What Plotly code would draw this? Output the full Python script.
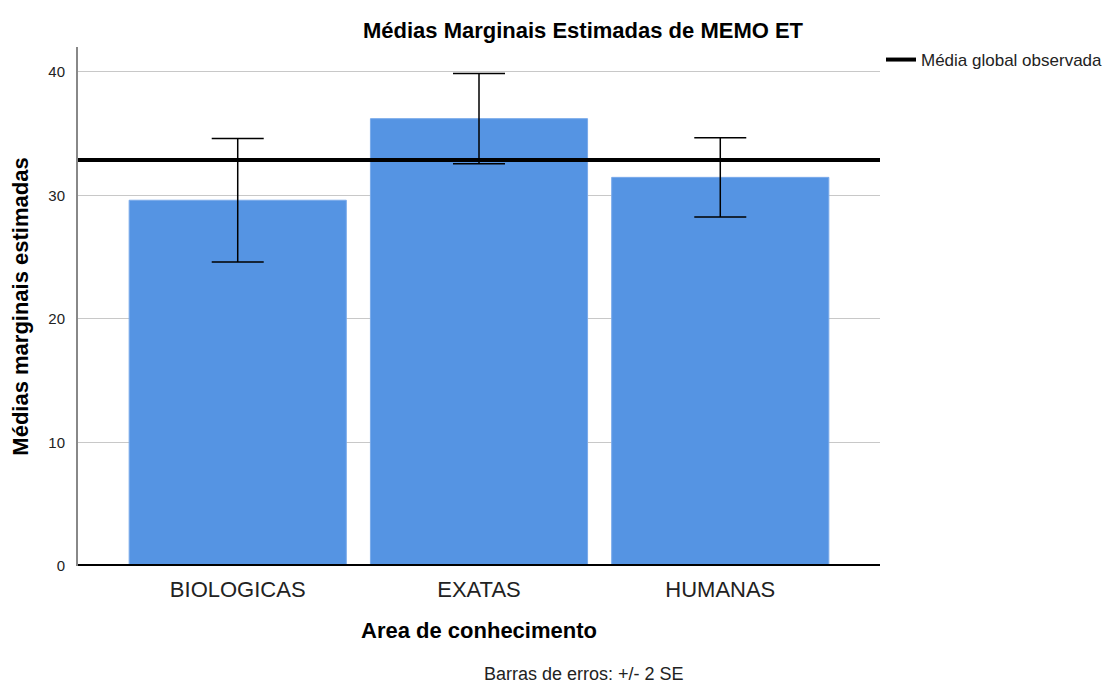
import plotly.graph_objects as go

categories = ["BIOLOGICAS", "EXATAS", "HUMANAS"]
means = [29.6, 36.2, 31.45]
err_2se = [5.0, 3.65, 3.2]
global_mean = 32.85
y_ticks = [0, 10, 20, 30, 40]

x_pos = list(range(len(categories)))

# page body has an 8px margin, so the figure is 8px smaller than the window
W, H = 1106, 676
L, T, PW, PH = 70, 39, 802, 519

fig = go.Figure()
fig.add_trace(go.Bar(
    x=x_pos, y=means, width=0.9,
    marker=dict(color="#5594E3", line=dict(color="#7aaaea", width=1)),
    error_y=dict(type="data", array=err_2se, visible=True, color="black",
                 thickness=1.5, width=26),
    showlegend=False, hoverinfo="skip",
))
fig.add_trace(go.Scatter(
    x=[None], y=[None], mode="lines",
    line=dict(color="black", width=4),
    name="Média global observada", showlegend=True,
))
fig.add_shape(type="line", xref="x domain", x0=0, x1=1, yref="y",
              y0=global_mean, y1=global_mean,
              line=dict(color="black", width=4), layer="above")
fig.add_shape(type="line", xref="x domain", x0=0, x1=1, yref="y",
              y0=0, y1=0, line=dict(color="black", width=4), layer="above")

fig.update_layout(
    width=W, height=H,
    margin=dict(l=L, r=W - L - PW, t=T, b=H - T - PH, autoexpand=False),
    paper_bgcolor="white", plot_bgcolor="white",
    font=dict(family="Liberation Sans, Arial, sans-serif", color="#222"),
    title=dict(text="<b>Médias Marginais Estimadas de MEMO ET</b>",
               x=575 / W, xanchor="center", y=1 - 22 / H, yanchor="middle",
               font=dict(size=22, color="black")),
    legend=dict(x=1.0 + 1 / PW, xanchor="left", y=1.0 + 5 / PH, yanchor="top",
                font=dict(size=17, color="#222"), bgcolor="rgba(0,0,0,0)",
                itemwidth=30),
    xaxis=dict(
        tickmode="array", tickvals=x_pos, ticktext=categories,
        range=[-0.662, len(categories) - 1 + 0.662],
        showgrid=False, zeroline=False, showline=False,
        tickfont=dict(size=22, color="#222"), ticks="", ticklabelstandoff=8,
        title=dict(text="<b>Area de conhecimento</b>", font=dict(size=22, color="black"),
                   standoff=21),
        automargin=False,
    ),
    yaxis=dict(
        range=[0, 42.0], tickvals=y_ticks,
        showgrid=True, gridcolor="#c8c8c8", gridwidth=1,
        zeroline=False, showline=True, linecolor="#888", linewidth=2,
        tickfont=dict(size=15, color="#222"), ticks="", ticklabelstandoff=8,
        title=dict(text="<b>Médias marginais estimadas</b>", font=dict(size=22, color="black"),
                   standoff=18),
        automargin=False,
    ),
    bargap=0.1,
)
fig.add_annotation(text="Barras de erros: +/- 2 SE", xref="paper", yref="paper",
                   x=(576 - L) / PW, y=-(666 - (T + PH)) / PH,
                   xanchor="center", yanchor="middle",
                   showarrow=False, font=dict(size=18, color="#222"))
fig.write_html("out.html")
